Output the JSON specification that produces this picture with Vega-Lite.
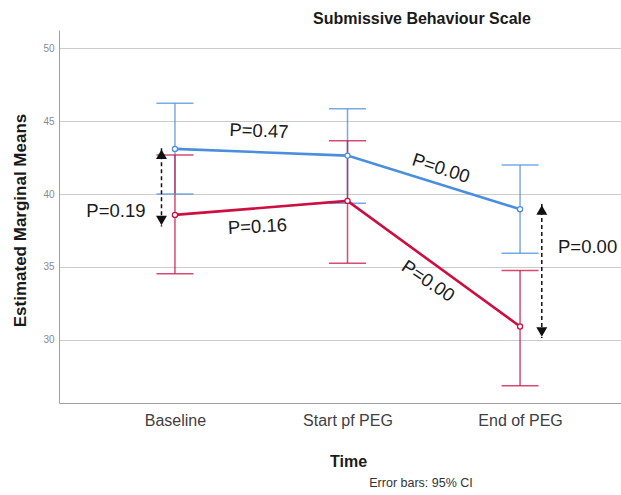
{
  "$schema": "https://vega.github.io/schema/vega-lite/v6.json",
  "width": 562,
  "height": 373,
  "autosize": {"type": "none"},
  "padding": {"left": 59, "top": 30, "right": 0, "bottom": 92},
  "background": "white",
  "config": {"view": {"stroke": null}, "font": "Liberation Sans"},
  "title": {
    "text": "Submissive Behaviour Scale",
    "anchor": "start",
    "frame": "group",
    "dx": 254,
    "offset": 3,
    "fontSize": 16,
    "fontWeight": "bold",
    "font": "Liberation Sans",
    "color": "#1a1a1a"
  },
  "datasets": {
    "means": [
      {"time": "Baseline", "t": 0, "group": "A", "mean": 43.10, "lo": 40.01, "hi": 46.23},
      {"time": "Start pf PEG", "t": 1, "group": "A", "mean": 42.64, "lo": 39.37, "hi": 45.86},
      {"time": "End of PEG", "t": 2, "group": "A", "mean": 38.96, "lo": 35.94, "hi": 42.00},
      {"time": "Baseline", "t": 0, "group": "B", "mean": 38.57, "lo": 34.53, "hi": 42.68},
      {"time": "Start pf PEG", "t": 1, "group": "B", "mean": 39.53, "lo": 35.26, "hi": 43.66},
      {"time": "End of PEG", "t": 2, "group": "B", "mean": 30.91, "lo": 26.85, "hi": 34.75}
    ],
    "notes": [
      {"id": "n1", "label": "P=0.47", "t": 0.487, "v": 44.33},
      {"id": "n2", "label": "P=0.19", "t": -0.342, "v": 38.87},
      {"id": "n3", "label": "P=0.16", "t": 0.478, "v": 37.77},
      {"id": "n4", "label": "P=0.00", "t": 1.542, "v": 41.77},
      {"id": "n5", "label": "P=0.00", "t": 1.467, "v": 34.03},
      {"id": "n6", "label": "P=0.00", "t": 2.22, "v": 36.40}
    ],
    "arrows": [
      {"id": "left", "t": -0.078, "top": 43.14, "bottom": 37.77},
      {"id": "right", "t": 2.126, "top": 39.32, "bottom": 30.12}
    ],
    "foot": [
      {"label": "Error bars: 95% CI", "t": 1.426, "v": 20.2}
    ]
  },
  "layer": [
    {
      "data": {"name": "means"},
      "mark": {"type": "rule", "strokeWidth": 1.5, "opacity": 0.75},
      "encoding": {
        "x": {
          "field": "t",
          "type": "quantitative",
          "scale": {"domain": [-0.672, 2.585], "nice": false, "zero": false},
          "axis": {
            "title": "Time",
            "values": [0, 1, 2],
            "labelExpr": "datum.value == 0 ? 'Baseline' : datum.value == 1 ? 'Start pf PEG' : 'End of PEG'",
            "grid": false,
            "ticks": false,
            "labelFlush": false,
            "domainColor": "#a0a0a0",
            "labelFontSize": 16,
            "labelColor": "#404040",
            "labelPadding": 9,
            "titleFontSize": 16,
            "titleFontWeight": "bold",
            "titleColor": "#1a1a1a",
            "titleX": 289,
            "titleY": 58,
            "titleAlign": "center",
            "titleBaseline": "middle"
          }
        },
        "y": {
          "field": "lo",
          "type": "quantitative",
          "scale": {"domain": [25.66, 51.26], "nice": false, "zero": false},
          "axis": {
            "title": "Estimated Marginal Means",
            "values": [30, 35, 40, 45, 50],
            "grid": true,
            "gridColor": "#cccccc",
            "ticks": false,
            "domainColor": "#a0a0a0",
            "labelFontSize": 10,
            "labelColor": "#8a8a8a",
            "labelPadding": 5,
            "titleFontSize": 17,
            "titleFontWeight": "bold",
            "titleColor": "#1a1a1a",
            "titleAngle": 270,
            "titleX": -39,
            "titleY": 190,
            "titleAlign": "center",
            "titleBaseline": "middle"
          }
        },
        "y2": {"field": "hi"},
        "color": {
          "field": "group",
          "type": "nominal",
          "scale": {"domain": ["A", "B"], "range": ["#4b8fdc", "#cc0f40"]},
          "legend": null
        }
      }
    },
    {
      "data": {"name": "means"},
      "mark": {"type": "tick", "orient": "horizontal", "size": 37, "thickness": 1.5, "opacity": 0.75},
      "encoding": {
        "x": {"field": "t", "type": "quantitative"},
        "y": {"field": "lo", "type": "quantitative"},
        "color": {"field": "group", "type": "nominal", "legend": null}
      }
    },
    {
      "data": {"name": "means"},
      "mark": {"type": "tick", "orient": "horizontal", "size": 37, "thickness": 1.5, "opacity": 0.75},
      "encoding": {
        "x": {"field": "t", "type": "quantitative"},
        "y": {"field": "hi", "type": "quantitative"},
        "color": {"field": "group", "type": "nominal", "legend": null}
      }
    },
    {
      "data": {"name": "means"},
      "mark": {"type": "line", "strokeWidth": 2.6},
      "encoding": {
        "x": {"field": "t", "type": "quantitative"},
        "y": {"field": "mean", "type": "quantitative"},
        "color": {"field": "group", "type": "nominal", "legend": null},
        "order": {"field": "t"}
      }
    },
    {
      "data": {"name": "means"},
      "mark": {"type": "point", "filled": false, "fill": "white", "fillOpacity": 1, "size": 26, "strokeWidth": 1.3, "opacity": 1},
      "encoding": {
        "x": {"field": "t", "type": "quantitative"},
        "y": {"field": "mean", "type": "quantitative"},
        "color": {"field": "group", "type": "nominal", "legend": null}
      }
    },
    {
      "data": {"name": "arrows"},
      "mark": {"type": "rule", "strokeDash": [4, 3], "strokeWidth": 1.5, "color": "#111111"},
      "encoding": {
        "x": {"field": "t", "type": "quantitative"},
        "y": {"field": "top", "type": "quantitative"},
        "y2": {"field": "bottom"}
      }
    },
    {
      "data": {"name": "arrows"},
      "mark": {"type": "point", "shape": "triangle-up", "filled": true, "size": 120, "color": "#111111", "opacity": 1, "yOffset": 6},
      "encoding": {
        "x": {"field": "t", "type": "quantitative"},
        "y": {"field": "top", "type": "quantitative"}
      }
    },
    {
      "data": {"name": "arrows"},
      "mark": {"type": "point", "shape": "triangle-down", "filled": true, "size": 120, "color": "#111111", "opacity": 1, "yOffset": -6},
      "encoding": {
        "x": {"field": "t", "type": "quantitative"},
        "y": {"field": "bottom", "type": "quantitative"}
      }
    },
    {
      "data": {"name": "notes"},
      "transform": [{"filter": "datum.id == 'n1'"}],
      "mark": {"type": "text", "fontSize": 18.5, "color": "#1a1a1a", "angle": 2, "align": "center", "baseline": "middle"},
      "encoding": {
        "x": {"field": "t", "type": "quantitative"},
        "y": {"field": "v", "type": "quantitative"},
        "text": {"field": "label"}
      }
    },
    {
      "data": {"name": "notes"},
      "transform": [{"filter": "datum.id == 'n2'"}],
      "mark": {"type": "text", "fontSize": 18.5, "color": "#1a1a1a", "angle": 0, "align": "center", "baseline": "middle"},
      "encoding": {
        "x": {"field": "t", "type": "quantitative"},
        "y": {"field": "v", "type": "quantitative"},
        "text": {"field": "label"}
      }
    },
    {
      "data": {"name": "notes"},
      "transform": [{"filter": "datum.id == 'n6'"}],
      "mark": {"type": "text", "fontSize": 18.5, "color": "#1a1a1a", "angle": 0, "align": "left", "baseline": "middle"},
      "encoding": {
        "x": {"field": "t", "type": "quantitative"},
        "y": {"field": "v", "type": "quantitative"},
        "text": {"field": "label"}
      }
    },
    {
      "data": {"name": "notes"},
      "transform": [{"filter": "datum.id == 'n3'"}],
      "mark": {"type": "text", "fontSize": 18.5, "color": "#1a1a1a", "angle": -3, "align": "center", "baseline": "middle"},
      "encoding": {
        "x": {"field": "t", "type": "quantitative"},
        "y": {"field": "v", "type": "quantitative"},
        "text": {"field": "label"}
      }
    },
    {
      "data": {"name": "notes"},
      "transform": [{"filter": "datum.id == 'n4'"}],
      "mark": {"type": "text", "fontSize": 18.5, "color": "#1a1a1a", "angle": 18, "align": "center", "baseline": "middle"},
      "encoding": {
        "x": {"field": "t", "type": "quantitative"},
        "y": {"field": "v", "type": "quantitative"},
        "text": {"field": "label"}
      }
    },
    {
      "data": {"name": "notes"},
      "transform": [{"filter": "datum.id == 'n5'"}],
      "mark": {"type": "text", "fontSize": 18.5, "color": "#1a1a1a", "angle": 34, "align": "center", "baseline": "middle"},
      "encoding": {
        "x": {"field": "t", "type": "quantitative"},
        "y": {"field": "v", "type": "quantitative"},
        "text": {"field": "label"}
      }
    },
    {
      "data": {"name": "foot"},
      "mark": {"type": "text", "fontSize": 12.5, "color": "#333333", "align": "center", "baseline": "middle"},
      "encoding": {
        "x": {"field": "t", "type": "quantitative"},
        "y": {"field": "v", "type": "quantitative"},
        "text": {"field": "label"}
      }
    }
  ]
}
